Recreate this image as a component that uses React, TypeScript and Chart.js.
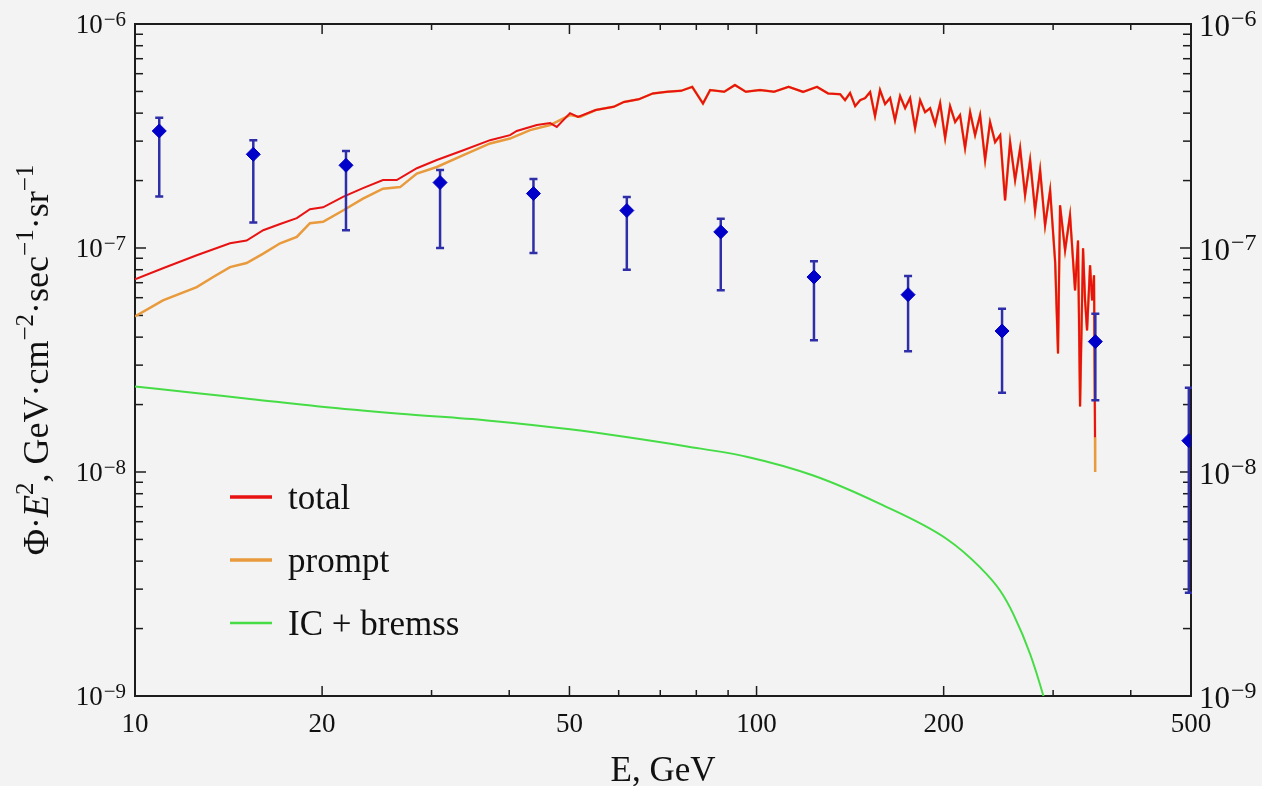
import React, { useEffect, useRef } from 'react';
import { Chart, registerables } from 'chart.js';

Chart.register(...registerables);

// ---------------- data ----------------
// Energy grid (GeV) and flux values (GeV cm^-2 s^-1 sr^-1) of the "total" curve
const totalE = [
  10.0, 11.09, 12.57, 14.22, 15.12, 16.08, 17.12, 18.21, 19.12, 20.07,
  21.61, 23.27, 25.06, 26.37, 28.41, 30.59, 33.75, 37.26, 40.12, 41.13,
  44.31, 46.54, 47.71, 50.11, 51.6, 55.11, 58.89, 61.2, 64.6, 68.1,
  71.8, 75.6, 78.8, 82.0, 84.2, 88.7, 92.3, 96.1, 101.3, 106.7,
  112.6, 118.8, 125.1, 130.3,
  136.3, 138.8, 141.4, 144.1, 146.8, 149.5, 152.3, 155.1, 158.0, 161.0,
  164.0, 167.0, 170.2, 173.4, 176.6, 179.9, 183.3, 186.7, 190.2, 193.8,
  197.4, 201.1, 204.8, 208.7, 212.5, 216.5, 220.6, 224.7, 228.9, 233.2,
  237.5, 242.0, 246.6, 251.1, 255.8, 260.6, 265.5, 270.4, 275.5, 280.6,
  285.9, 291.2, 296.7, 302.3, 305.5, 307.8, 313.6, 319.4, 325.4, 329.0,
  331.5, 335.2, 337.7, 340.2, 344.0, 346.6, 349.1, 350.4,
];
const totalFlux = [
  7.25e-8, 8.12e-8, 9.28e-8, 1.05e-7, 1.08e-7, 1.2e-7, 1.28e-7, 1.36e-7, 1.49e-7, 1.52e-7,
  1.69e-7, 1.85e-7, 2.01e-7, 2.01e-7, 2.27e-7, 2.47e-7, 2.73e-7, 3.03e-7, 3.19e-7, 3.33e-7,
  3.54e-7, 3.61e-7, 3.47e-7, 4.0e-7, 3.85e-7, 4.13e-7, 4.27e-7, 4.49e-7, 4.61e-7, 4.9e-7,
  4.98e-7, 5.03e-7, 5.24e-7, 4.42e-7, 5.07e-7, 4.98e-7, 5.34e-7, 4.98e-7, 5.07e-7, 4.98e-7,
  5.24e-7, 4.98e-7, 5.24e-7, 4.9e-7,
  4.86e-7, 4.57e-7, 4.92e-7, 4.3e-7, 4.57e-7, 4.67e-7, 4.97e-7, 3.88e-7, 5.07e-7, 4.39e-7,
  4.67e-7, 3.72e-7, 4.77e-7, 4.21e-7, 4.67e-7, 3.43e-7, 4.57e-7, 4.04e-7, 4.21e-7, 3.57e-7,
  4.43e-7, 3.09e-7, 4.3e-7, 3.65e-7, 3.92e-7, 2.79e-7, 4.04e-7, 3.19e-7, 3.92e-7, 2.47e-7,
  3.65e-7, 2.97e-7, 3.19e-7, 1.63e-7, 2.97e-7, 2.01e-7, 2.79e-7, 1.72e-7, 2.47e-7, 1.47e-7,
  2.23e-7, 1.26e-7, 1.81e-7, 8.63e-8, 3.38e-8, 1.55e-7, 9.77e-8, 1.4e-7, 6.47e-8, 1.08e-7,
  1.96e-8, 9.97e-8, 5.84e-8, 4.29e-8, 8.37e-8, 5.84e-8, 7.55e-8, 1.43e-8,
];

// "prompt" curve: below "total" at low energy, coincides with it above ~55 GeV
const promptLowE = [
  10.0, 11.09, 12.57, 13.36, 14.22, 15.12, 16.08, 17.12, 18.21, 19.12,
  20.07, 21.61, 23.27, 25.06, 26.7, 28.41, 30.59, 33.75, 37.26, 40.12,
  43.22, 46.54, 50.11, 52.0,
];
const promptLowFlux = [
  4.95e-8, 5.84e-8, 6.69e-8, 7.42e-8, 8.22e-8, 8.57e-8, 9.44e-8, 1.05e-7, 1.12e-7, 1.29e-7,
  1.31e-7, 1.47e-7, 1.66e-7, 1.84e-7, 1.87e-7, 2.15e-7, 2.3e-7, 2.6e-7, 2.93e-7, 3.08e-7,
  3.36e-7, 3.54e-7, 3.92e-7, 3.85e-7,
];
const promptMergeE = 55;
const promptEndE = [350.6];
const promptEndFlux = [1.0e-8];

// "IC + bremss" curve
const icE = [
  10.0, 12.72, 15.31, 19.78, 26.7, 36.86, 50.1, 77.3, 96.4, 123.4,
  158.0, 202.3, 228.9, 246.6, 258.9, 275.5, 289.4, 296.7,
];
const icFlux = [
  2.41e-8, 2.24e-8, 2.12e-8, 1.96e-8, 1.82e-8, 1.7e-8, 1.55e-8, 1.3e-8, 1.17e-8, 9.64e-9,
  7.2e-9, 5.02e-9, 3.75e-9, 2.95e-9, 2.32e-9, 1.54e-9, 1.0e-9, 7.7e-10,
];

// measured points with error bars
const dataE = [10.94, 15.5, 21.85, 30.96, 43.76, 61.84, 87.58, 123.7, 175.3, 248.3, 350.8, 496];
const dataFlux = [3.33e-7, 2.62e-7, 2.34e-7, 1.96e-7, 1.75e-7, 1.47e-7, 1.18e-7, 7.42e-8, 6.19e-8, 4.26e-8, 3.82e-8, 1.38e-8];
const dataHi = [3.81e-7, 3.03e-7, 2.71e-7, 2.23e-7, 2.03e-7, 1.69e-7, 1.35e-7, 8.72e-8, 7.49e-8, 5.36e-8, 5.09e-8, 2.38e-8];
const dataLo = [1.7e-7, 1.3e-7, 1.2e-7, 1.0e-7, 9.5e-8, 8.0e-8, 6.47e-8, 3.87e-8, 3.46e-8, 2.26e-8, 2.09e-8, 2.89e-9];

// axes
const xMin = 10;
const xMax = 500;
const yMin = 1e-9;
const yMax = 1e-6;
const xMajorTicks = [10, 20, 50, 100, 200, 500];
const xTickLabels = ['10', '20', '50', '100', '200', '500'];
const xMinorTicks = [30, 40, 60, 70, 80, 90, 300, 400];
const yDecades = [1e-9, 1e-8, 1e-7, 1e-6];
const yExponents = ['−9', '−8', '−7', '−6'];
const yMinorMultipliers = [2, 3, 4, 5, 6, 7, 8, 9];

const seriesLabels = ['data', 'total', 'prompt', 'IC + bremss'];
const xTitle = 'E, GeV';
type Seg = { t: string; s: 'n' | 'i' | 's' };
const yTitle: Seg[] = [
  { t: 'Φ·', s: 'n' },
  { t: 'E', s: 'i' },
  { t: '2', s: 's' },
  { t: ', GeV·cm', s: 'n' },
  { t: '−2', s: 's' },
  { t: '·sec', s: 'n' },
  { t: '−1', s: 's' },
  { t: '·sr', s: 'n' },
  { t: '−1', s: 's' },
];

// ---------------- styling ----------------
const SERIF = '"Liberation Serif", "Times New Roman", serif';
const BG = '#f3f3f3';
const AXIS = '#1c1c1c';
const RED = '#e81212';
const ORANGE = '#e89a3c';
const GREEN = '#45dc45';
const BLUE = '#0000c8';
const BAR = '#2e2ea8';

const pts = (xs: number[], ys: number[]) => xs.map((x, i) => ({ x, y: ys[i] }));

const mergeIdx = totalE.findIndex((e) => e >= promptMergeE);
const promptPoints = [
  ...pts(promptLowE, promptLowFlux),
  ...pts(totalE.slice(mergeIdx), totalFlux.slice(mergeIdx)),
  ...pts(promptEndE, promptEndFlux),
];

const decorPlugin = {
  id: 'decor',
  beforeDraw(chart: any) {
    const { ctx, width, height } = chart;
    ctx.save();
    ctx.fillStyle = BG;
    ctx.fillRect(0, 0, width, height);
    ctx.restore();
  },
  beforeDatasetsDraw(chart: any) {
    const { ctx, chartArea, scales } = chart;
    const { left, right, top, bottom } = chartArea;
    const xs = scales.x;
    const ys = scales.y;
    ctx.save();
    ctx.strokeStyle = AXIS;
    ctx.lineWidth = 1.5;
    const seg = (x1: number, y1: number, x2: number, y2: number) => {
      ctx.beginPath();
      ctx.moveTo(x1, y1);
      ctx.lineTo(x2, y2);
      ctx.stroke();
    };
    xMajorTicks.forEach((v) => {
      const px = xs.getPixelForValue(v);
      seg(px, bottom, px, bottom - 10);
      seg(px, top, px, top + 10);
    });
    xMinorTicks.forEach((v) => {
      const px = xs.getPixelForValue(v);
      seg(px, bottom, px, bottom - 6);
      seg(px, top, px, top + 6);
    });
    yDecades.forEach((d, k) => {
      const py = ys.getPixelForValue(d);
      seg(left, py, left + 11, py);
      seg(right, py, right - 11, py);
      if (k < yDecades.length - 1) {
        yMinorMultipliers.forEach((m) => {
          const q = ys.getPixelForValue(m * d);
          seg(left, q, left + 8, q);
          seg(right, q, right - 8, q);
        });
      }
    });
    ctx.lineWidth = 2;
    ctx.strokeRect(left, top, right - left, bottom - top);
    ctx.restore();
  },
  beforeDatasetDraw(chart: any, args: any) {
    if (args.index !== 0) return;
    const { ctx, chartArea, scales } = chart;
    ctx.save();
    ctx.beginPath();
    ctx.rect(chartArea.left, chartArea.top, chartArea.right - chartArea.left + 1, chartArea.bottom - chartArea.top);
    ctx.clip();
    ctx.strokeStyle = BAR;
    ctx.lineWidth = 2.5;
    dataE.forEach((e, i) => {
      const px = scales.x.getPixelForValue(e);
      const hi = scales.y.getPixelForValue(dataHi[i]);
      const lo = scales.y.getPixelForValue(dataLo[i]);
      ctx.beginPath();
      ctx.moveTo(px, hi);
      ctx.lineTo(px, lo);
      ctx.moveTo(px - 4, hi);
      ctx.lineTo(px + 4, hi);
      ctx.moveTo(px - 4, lo);
      ctx.lineTo(px + 4, lo);
      ctx.stroke();
    });
    ctx.restore();
  },
  afterDraw(chart: any) {
    const { ctx, chartArea, scales } = chart;
    const { left, right, top, bottom } = chartArea;
    ctx.save();
    ctx.fillStyle = '#111';
    ctx.textBaseline = 'alphabetic';

    // x tick labels
    ctx.font = `27px ${SERIF}`;
    ctx.textAlign = 'center';
    xMajorTicks.forEach((v, i) => {
      ctx.fillText(xTickLabels[i], scales.x.getPixelForValue(v), bottom + 36);
    });

    // y tick labels
    ctx.textAlign = 'left';
    yDecades.forEach((d, i) => {
      const py = scales.y.getPixelForValue(d);
      ctx.font = `21px ${SERIF}`;
      const ew = ctx.measureText(yExponents[i]).width;
      ctx.font = `27px ${SERIF}`;
      const bw = ctx.measureText('10').width;
      const endX = left - 9;
      ctx.fillText('10', endX - ew - 1 - bw, py + 9);
      ctx.font = `21px ${SERIF}`;
      ctx.fillText(yExponents[i], endX - ew, py + 2);
      ctx.font = `31px ${SERIF}`;
      const bw2 = ctx.measureText('10').width;
      ctx.fillText('10', right + 8, py + 12);
      ctx.font = `24px ${SERIF}`;
      ctx.fillText(yExponents[i], right + 8 + bw2 + 1, py + 2);
    });

    // x title
    ctx.font = `35px ${SERIF}`;
    ctx.textAlign = 'center';
    ctx.fillText(xTitle, (left + right) / 2, bottom + 85);

    // y title (rotated)
    const fontFor = (s: string) =>
      s === 'i' ? `italic 36px ${SERIF}` : s === 's' ? `25px ${SERIF}` : `36px ${SERIF}`;
    let total = 0;
    const widths = yTitle.map((g) => {
      ctx.font = fontFor(g.s);
      const w = ctx.measureText(g.t).width;
      total += w;
      return w;
    });
    ctx.save();
    ctx.translate(48, (top + bottom) / 2);
    ctx.rotate(-Math.PI / 2);
    ctx.textAlign = 'left';
    let cx = -total / 2;
    yTitle.forEach((g, i) => {
      ctx.font = fontFor(g.s);
      ctx.fillText(g.t, cx, g.s === 's' ? -15 : 0);
      cx += widths[i];
    });
    ctx.restore();

    // legend
    const ds = chart.data.datasets;
    ctx.textAlign = 'left';
    for (let i = 1; i < ds.length; i++) {
      const cy = 497 + (i - 1) * 63;
      ctx.strokeStyle = ds[i].borderColor;
      ctx.lineWidth = i === 3 ? 2.5 : 3.5;
      ctx.beginPath();
      ctx.moveTo(230, cy);
      ctx.lineTo(272, cy);
      ctx.stroke();
      ctx.fillStyle = '#111';
      ctx.font = `35px ${SERIF}`;
      ctx.fillText(ds[i].label, 288, cy + 12);
    }
    ctx.restore();
  },
};

export default function App() {
  const ref = useRef<HTMLCanvasElement>(null);
  useEffect(() => {
    const canvas = ref.current;
    if (!canvas) return;
    const chart = new Chart(canvas, {
      type: 'scatter',
      data: {
        datasets: [
          {
            label: seriesLabels[0],
            data: pts(dataE, dataFlux),
            showLine: false,
            pointStyle: 'rectRot',
            pointRadius: 7,
            backgroundColor: BLUE,
            borderColor: BLUE,
            borderWidth: 1,
            order: 0,
          },
          {
            label: seriesLabels[1],
            data: pts(totalE, totalFlux),
            showLine: true,
            borderColor: RED,
            backgroundColor: RED,
            borderWidth: 2,
            pointRadius: 0,
            order: 1,
          },
          {
            label: seriesLabels[2],
            data: promptPoints,
            showLine: true,
            borderColor: ORANGE,
            backgroundColor: ORANGE,
            borderWidth: 2.5,
            pointRadius: 0,
            order: 2,
          },
          {
            label: seriesLabels[3],
            data: pts(icE, icFlux),
            showLine: true,
            borderColor: GREEN,
            backgroundColor: GREEN,
            borderWidth: 2,
            pointRadius: 0,
            cubicInterpolationMode: 'monotone',
            order: 3,
          },
        ],
      } as any,
      options: {
        responsive: false,
        maintainAspectRatio: false,
        animation: false,
        devicePixelRatio: 1,
        layout: { padding: { left: 135, right: 71, top: 24, bottom: 90 } },
        scales: {
          x: { type: 'logarithmic', min: xMin, max: xMax, display: false },
          y: { type: 'logarithmic', min: yMin, max: yMax, display: false },
        },
        plugins: {
          legend: { display: false },
          tooltip: { enabled: false },
        },
        events: [],
      } as any,
      plugins: [decorPlugin],
    });
    return () => chart.destroy();
  }, []);
  return (
    <div style={{ position: 'fixed', left: 0, top: 0, width: 1262, height: 786, background: BG, overflow: 'hidden' }}>
      <canvas ref={ref} width={1262} height={786} style={{ display: 'block', width: 1262, height: 786 }} />
    </div>
  );
}
